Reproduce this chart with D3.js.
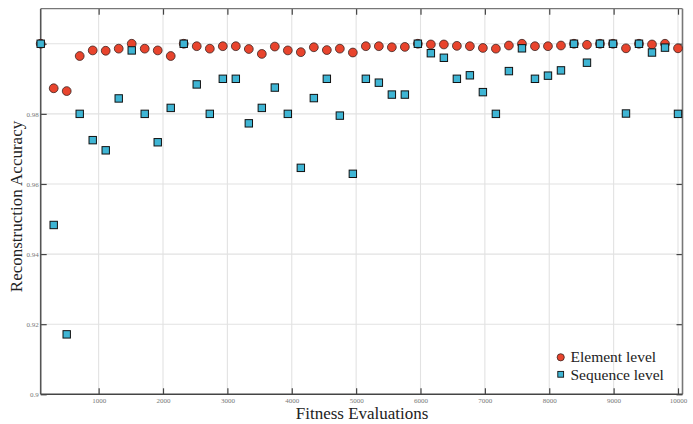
<!DOCTYPE html>
<html>
<head>
<meta charset="utf-8">
<script src="https://cdn.jsdelivr.net/npm/d3@7"></script>
<style>
  html, body { margin: 0; padding: 0; background: #fff; }
  svg { display: block; }
  text { font-family: "Liberation Serif", "Times New Roman", serif; }
</style>
</head>
<body>
<svg id="chart" width="693" height="424"></svg>
<script>
// Fitness evaluation at which each accuracy sample was taken
const evaluations = [100, 302, 504, 706, 908, 1110, 1312, 1514, 1716, 1918,
  2120, 2322, 2524, 2727, 2929, 3131, 3333, 3535, 3737, 3939,
  4141, 4343, 4545, 4747, 4949, 5151, 5353, 5555, 5757, 5959,
  6161, 6363, 6565, 6767, 6969, 7171, 7373, 7576, 7778, 7980,
  8182, 8384, 8586, 8788, 8990, 9192, 9394, 9596, 9798, 10000];

// Element-level reconstruction accuracy
const elementLevel = [1.0, 0.9873, 0.9865, 0.9965, 0.9981, 0.9980, 0.9986, 1.0, 0.9986, 0.9981,
  0.9965, 1.0, 0.9993, 0.9986, 0.9993, 0.9993, 0.9985, 0.9971, 0.9992, 0.9981,
  0.9976, 0.9990, 0.9982, 0.9986, 0.9975, 0.9993, 0.9993, 0.9990, 0.9991, 1.0,
  0.9998, 0.9998, 0.9994, 0.9993, 0.9988, 0.9986, 0.9995, 1.0, 0.9993, 0.9993,
  0.9995, 1.0, 0.9997, 1.0, 1.0, 0.9987, 1.0, 0.9998, 1.0, 0.9987];

// Sequence-level reconstruction accuracy
const sequenceLevel = [1.0, 0.9483, 0.9171, 0.9800, 0.9725, 0.9696, 0.9844, 0.9981, 0.9800, 0.9719,
  0.9817, 1.0, 0.9884, 0.9800, 0.9900, 0.9900, 0.9773, 0.9817, 0.9875, 0.9800,
  0.9646, 0.9845, 0.9900, 0.9795, 0.9629, 0.9900, 0.9889, 0.9855, 0.9855, 1.0,
  0.9973, 0.9960, 0.9900, 0.9910, 0.9862, 0.9800, 0.9922, 0.9987, 0.9900, 0.9909,
  0.9924, 1.0, 0.9946, 1.0, 1.0, 0.9801, 1.0, 0.9975, 0.9989, 0.9800];

const xTicks = [1000, 2000, 3000, 4000, 5000, 6000, 7000, 8000, 9000, 10000];
const yTicks = [0.9, 0.92, 0.94, 0.96, 0.98, 1.0];
const yTickLabels = ["0.9", "0.92", "0.94", "0.96", "0.98", ""];

const seriesNames = ["Element level", "Sequence level"];

const W = 693, H = 424;
const plot = { left: 40.7, right: 682.5, top: 8.7, bottom: 394.3 };
const RED = "#e8442d", BLUE = "#3fb5d4";

const svg = d3.select("#chart");

const x = d3.scaleLinear().domain([100, 10070]).range([plot.left, plot.right]);
const y = d3.scaleLinear().domain([0.9, 1.01]).range([plot.bottom, plot.top]);

// grid
const grid = svg.append("g").attr("class", "grid");
grid.selectAll("line.gx").data(xTicks).join("line")
  .attr("x1", d => x(d)).attr("x2", d => x(d))
  .attr("y1", plot.top).attr("y2", plot.bottom)
  .attr("stroke", "#e2e2e2").attr("stroke-width", 1.1);
grid.selectAll("line.gy").data(yTicks.filter(v => v > 0.9)).join("line")
  .attr("x1", plot.left).attr("x2", plot.right)
  .attr("y1", d => y(d)).attr("y2", d => y(d))
  .attr("stroke", "#e2e2e2").attr("stroke-width", 1.1);

// axes with inward ticks on all four sides
function styleAxis(g) {
  g.select(".domain").remove();
  g.selectAll(".tick line").attr("stroke", "#444").attr("stroke-width", 1.2);
  g.selectAll(".tick text").attr("fill", "#777").attr("font-size", "7px")
    .attr("font-family", "Liberation Serif, serif");
}

svg.append("g").attr("transform", `translate(0,${plot.bottom})`)
  .call(d3.axisBottom(x).tickValues(xTicks).tickSize(-6).tickPadding(3.5).tickFormat(d3.format("d")))
  .call(styleAxis);
svg.append("g").attr("transform", `translate(0,${plot.top})`)
  .call(d3.axisTop(x).tickValues(xTicks).tickSize(-6).tickFormat(""))
  .call(styleAxis);
svg.append("g").attr("transform", `translate(${plot.left},0)`)
  .call(d3.axisLeft(y).tickValues(yTicks).tickSize(-6).tickPadding(2)
    .tickFormat((d, i) => yTickLabels[i]))
  .call(styleAxis);
svg.append("g").attr("transform", `translate(${plot.right},0)`)
  .call(d3.axisRight(y).tickValues(yTicks).tickSize(-6).tickFormat(""))
  .call(styleAxis);

// frame
svg.append("line").attr("x1", plot.left).attr("x2", plot.right)
  .attr("y1", plot.top).attr("y2", plot.top).attr("stroke", "#777").attr("stroke-width", 1.2);
svg.append("line").attr("x1", plot.right).attr("x2", plot.right)
  .attr("y1", plot.top).attr("y2", plot.bottom).attr("stroke", "#777").attr("stroke-width", 1.6);
svg.append("line").attr("x1", plot.left).attr("x2", plot.left)
  .attr("y1", plot.top).attr("y2", plot.bottom).attr("stroke", "#555").attr("stroke-width", 1.6);
svg.append("line").attr("x1", plot.left).attr("x2", plot.right)
  .attr("y1", plot.bottom).attr("y2", plot.bottom).attr("stroke", "#444").attr("stroke-width", 1.6);

// points
const R = 4.4, S = 7.4;
svg.append("g").selectAll("circle").data(evaluations).join("circle")
  .attr("cx", d => x(d)).attr("cy", (d, i) => y(elementLevel[i]))
  .attr("r", R).attr("fill", RED).attr("stroke", "#3a2522").attr("stroke-width", 0.8);

svg.append("g").selectAll("rect").data(evaluations).join("rect")
  .attr("x", d => x(d) - S / 2).attr("y", (d, i) => y(sequenceLevel[i]) - S / 2)
  .attr("width", S).attr("height", S)
  .attr("fill", BLUE).attr("stroke", "#111").attr("stroke-width", 1);

// axis titles
svg.append("text").attr("x", (plot.left + plot.right) / 2 + 0.5).attr("y", 419)
  .attr("text-anchor", "middle").attr("font-size", "17px").attr("fill", "#222")
  .text("Fitness Evaluations");
svg.append("text").attr("transform", `translate(22,${(plot.top + plot.bottom) / 2 + 5}) rotate(-90)`)
  .attr("text-anchor", "middle").attr("font-size", "17px").attr("fill", "#222")
  .text("Reconstruction Accuracy");

// legend
const legend = svg.append("g");
legend.append("circle").attr("cx", 560.7).attr("cy", 357.3).attr("r", 3.6)
  .attr("fill", RED).attr("stroke", "#3a2522").attr("stroke-width", 0.8);
legend.append("rect").attr("x", 560.7 - 2.9).attr("y", 374.3 - 2.9).attr("width", 5.8).attr("height", 5.8)
  .attr("fill", BLUE).attr("stroke", "#111").attr("stroke-width", 0.9);
legend.selectAll("text").data(seriesNames).join("text")
  .attr("x", 570.5).attr("y", (d, i) => 362.2 + i * 17.4)
  .attr("font-size", "15.5px").attr("fill", "#222").text(d => d);
</script>
</body>
</html>
